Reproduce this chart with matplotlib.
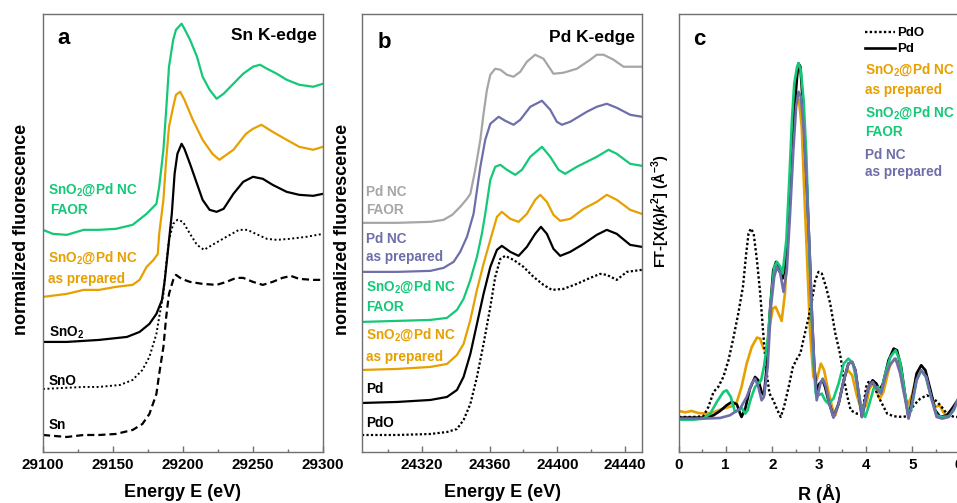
import matplotlib
matplotlib.use('Agg')
import matplotlib.pyplot as plt

plt.rcParams['font.family'] = ['Liberation Sans', 'DejaVu Sans']
plt.rcParams['font.weight'] = 'bold'
plt.rcParams['axes.labelweight'] = 'bold'
plt.rcParams['mathtext.fontset'] = 'custom'
plt.rcParams['mathtext.rm'] = 'Liberation Sans:bold'
plt.rcParams['mathtext.it'] = 'Liberation Sans:italic:bold'
plt.rcParams['mathtext.bf'] = 'Liberation Sans:bold'

# ---------------- colours ----------------
GREEN = '#14C878'
ORANGE = '#E6A000'
PURPLE = '#6E6EAA'
GRAY = '#A6A6A6'
BLACK = '#000000'

# ---------------- panel a : Sn K-edge (offset normalized fluorescence) ----------------
a_faor_E = [29100, 29107, 29117, 29129, 29140, 29152, 29164, 29174, 29181, 29183, 29186, 29188, 29190,
            29193, 29195, 29199, 29201, 29205, 29210, 29214, 29219, 29224, 29229, 29236, 29243, 29250,
            29255, 29260, 29267, 29274, 29283, 29293, 29300]
a_faor_mu = [2.22, 2.18, 2.17, 2.22, 2.22, 2.23, 2.27, 2.38, 2.48, 2.65, 3.02, 3.42, 3.85, 4.12, 4.22,
             4.28, 4.23, 4.12, 3.95, 3.75, 3.62, 3.53, 3.58, 3.68, 3.78, 3.85, 3.87, 3.83, 3.78, 3.72,
             3.67, 3.65, 3.68]

a_prep_E = [29100, 29117, 29129, 29140, 29152, 29164, 29169, 29174, 29179, 29182, 29183, 29186, 29188,
            29190, 29193, 29195, 29198, 29201, 29207, 29214, 29221, 29226, 29236, 29245, 29250, 29256,
            29264, 29274, 29283, 29293, 29300]
a_prep_mu = [1.55, 1.58, 1.62, 1.62, 1.65, 1.67, 1.72, 1.85, 1.92, 1.98, 2.18, 2.52, 2.92, 3.25, 3.45,
             3.57, 3.60, 3.52, 3.32, 3.12, 2.98, 2.92, 3.02, 3.18, 3.23, 3.27, 3.20, 3.12, 3.05, 3.02, 3.05]

a_sno2_E = [29100, 29117, 29140, 29160, 29169, 29176, 29181, 29185, 29187, 29189, 29192, 29194, 29196,
            29199, 29201, 29205, 29210, 29214, 29219, 29224, 29229, 29236, 29243, 29250, 29257, 29264,
            29274, 29283, 29293, 29300]
a_sno2_mu = [1.10, 1.10, 1.12, 1.15, 1.20, 1.28, 1.38, 1.52, 1.72, 1.98, 2.38, 2.78, 2.98, 3.08, 3.03,
             2.88, 2.68, 2.52, 2.42, 2.40, 2.43, 2.58, 2.70, 2.75, 2.73, 2.67, 2.60, 2.57, 2.56, 2.58]

a_sno_E = [29100, 29129, 29140, 29155, 29164, 29171, 29176, 29181, 29183, 29186, 29188, 29190, 29193,
           29196, 29200, 29205, 29210, 29215, 29221, 29231, 29240, 29246, 29252, 29260, 29267, 29276,
           29288, 29300]
a_sno_mu = [0.63, 0.65, 0.65, 0.67, 0.72, 0.82, 0.95, 1.18, 1.35, 1.58, 1.88, 2.12, 2.28, 2.32, 2.30,
            2.18, 2.07, 2.02, 2.07, 2.15, 2.22, 2.22, 2.18, 2.13, 2.12, 2.13, 2.15, 2.18]

a_sn_E = [29100, 29117, 29129, 29140, 29152, 29164, 29171, 29176, 29181, 29183, 29186, 29188, 29190,
          29193, 29195, 29199, 29205, 29214, 29224, 29231, 29238, 29243, 29250, 29257, 29264, 29271,
          29277, 29283, 29293, 29298]
a_sn_mu = [0.17, 0.15, 0.17, 0.17, 0.18, 0.22, 0.28, 0.38, 0.58, 0.78, 1.05, 1.35, 1.58, 1.72, 1.77,
           1.73, 1.70, 1.68, 1.67, 1.70, 1.74, 1.74, 1.70, 1.67, 1.70, 1.74, 1.76, 1.73, 1.72, 1.72]

# ---------------- panel b : Pd K-edge ----------------
b_pdfaor_E = [24284.6, 24305.3, 24325.0, 24332.8, 24337.9, 24342.6, 24346.6, 24348.6, 24351.5, 24354.5,
              24356.4, 24358.4, 24360.4, 24363.3, 24366.3, 24370.2, 24374.1, 24378.1, 24382.0, 24386.9,
              24391.8, 24397.7, 24403.6, 24411.5, 24419.4, 24423.3, 24427.3, 24433.2, 24439.1, 24449.9]
b_pdfaor_mu = [2.29, 2.29, 2.30, 2.32, 2.37, 2.45, 2.53, 2.58, 2.82, 3.12, 3.38, 3.62, 3.77, 3.83, 3.82,
               3.77, 3.75, 3.80, 3.90, 3.97, 3.93, 3.78, 3.79, 3.83, 3.92, 3.97, 3.97, 3.92, 3.85, 3.85]

b_pdprep_E = [24284.6, 24305.3, 24325.0, 24332.8, 24338.7, 24342.6, 24346.6, 24350.5, 24354.5, 24357.4,
              24360.4, 24365.3, 24369.2, 24374.1, 24378.1, 24384.0, 24390.9, 24395.8, 24399.7, 24402.7,
              24407.6, 24417.4, 24423.3, 24429.2, 24435.1, 24443.0, 24449.9]
b_pdprep_mu = [1.80, 1.80, 1.81, 1.84, 1.90, 2.00, 2.15, 2.38, 2.85, 3.12, 3.28, 3.35, 3.31, 3.27, 3.32,
               3.45, 3.51, 3.42, 3.30, 3.27, 3.30, 3.40, 3.45, 3.48, 3.44, 3.37, 3.35]

b_snfaor_E = [24284.6, 24305.3, 24325.0, 24334.8, 24340.7, 24344.6, 24348.6, 24352.5, 24355.4, 24357.4,
              24360.4, 24363.3, 24366.3, 24370.2, 24375.1, 24379.1, 24384.0, 24390.9, 24395.8, 24400.7,
              24404.6, 24411.5, 24417.4, 24423.3, 24430.2, 24435.1, 24443.0, 24449.9]
b_snfaor_mu = [1.30, 1.31, 1.32, 1.34, 1.42, 1.53, 1.72, 1.95, 2.18, 2.38, 2.72, 2.85, 2.87, 2.82, 2.77,
               2.82, 2.95, 3.05, 2.95, 2.82, 2.78, 2.85, 2.90, 2.95, 3.02, 2.98, 2.88, 2.86]

b_snprep_E = [24284.6, 24305.3, 24325.0, 24334.8, 24340.7, 24344.6, 24348.6, 24352.5, 24356.4, 24360.4,
              24364.3, 24367.2, 24372.2, 24377.1, 24382.0, 24386.9, 24389.9, 24393.8, 24397.7, 24401.7,
              24407.6, 24415.5, 24423.3, 24429.2, 24435.1, 24443.0, 24449.9]
b_snprep_mu = [0.82, 0.83, 0.85, 0.88, 0.97, 1.08, 1.32, 1.62, 1.88, 2.12, 2.35, 2.40, 2.33, 2.30, 2.38,
               2.52, 2.57, 2.50, 2.37, 2.31, 2.33, 2.43, 2.50, 2.57, 2.52, 2.42, 2.38]

b_pd_E = [24284.6, 24305.3, 24325.0, 24334.8, 24340.7, 24344.6, 24348.6, 24352.5, 24356.4, 24360.4,
          24364.3, 24367.2, 24372.2, 24377.1, 24382.0, 24386.9, 24390.3, 24393.8, 24397.7, 24401.7,
          24407.6, 24415.5, 24423.3, 24429.2, 24435.1, 24443.0, 24449.9]
b_pd_mu = [0.49, 0.50, 0.52, 0.55, 0.62, 0.75, 0.98, 1.28, 1.58, 1.85, 2.02, 2.06, 2.00, 1.96, 2.05,
           2.18, 2.25, 2.18, 2.03, 1.96, 2.00, 2.08, 2.17, 2.22, 2.18, 2.07, 2.05]

b_pdo_E = [24284.6, 24305.3, 24325.0, 24334.8, 24340.7, 24344.6, 24348.6, 24352.5, 24356.4, 24360.4,
           24363.3, 24366.3, 24369.2, 24374.1, 24380.0, 24385.9, 24391.8, 24396.8, 24403.6, 24411.5,
           24419.4, 24425.3, 24429.2, 24435.1, 24441.0, 24449.9]
b_pdo_mu = [0.17, 0.17, 0.18, 0.20, 0.23, 0.32, 0.48, 0.75, 1.08, 1.45, 1.75, 1.93, 1.96, 1.92, 1.85,
            1.75, 1.67, 1.62, 1.63, 1.68, 1.74, 1.78, 1.77, 1.72, 1.80, 1.82]

# ---------------- panel c : Fourier transform magnitude ----------------
c_pd_R = [0.00, 0.31, 0.52, 0.74, 0.88, 1.02, 1.13, 1.24, 1.31, 1.34, 1.42, 1.52, 1.63, 1.70, 1.77,
          1.82, 1.88, 1.95, 2.02, 2.08, 2.15, 2.22, 2.30, 2.37, 2.44, 2.49, 2.53, 2.56, 2.60, 2.63,
          2.68, 2.74, 2.80, 2.85, 2.90, 2.95, 3.01, 3.08, 3.13, 3.20, 3.31, 3.42, 3.53, 3.63, 3.71,
          3.78, 3.85, 3.92, 3.99, 4.06, 4.15, 4.23, 4.30, 4.37, 4.49, 4.60, 4.67, 4.76, 4.85, 4.92,
          4.99, 5.09, 5.19, 5.28, 5.39, 5.49, 5.60, 5.74, 5.85, 5.97]
c_pd_ft = [0.03, 0.03, 0.03, 0.10, 0.23, 0.40, 0.50, 0.43, 0.15, 0.05, 0.30, 0.90, 1.25, 1.15, 0.80,
           0.70, 1.55, 3.25, 4.45, 4.70, 4.55, 4.20, 4.75, 6.55, 8.35, 9.55, 10.25, 10.65, 10.55, 9.95,
           8.75, 6.95, 4.95, 3.05, 1.55, 0.85, 1.05, 1.15, 0.95, 0.55, 0.05, 0.45, 1.15, 1.65, 1.70,
           1.45, 0.75, 0.05, 0.55, 0.95, 1.15, 1.05, 0.85, 1.05, 1.75, 2.10, 2.05, 1.55, 0.65, 0.03,
           0.55, 1.35, 1.60, 1.45, 0.85, 0.25, 0.05, 0.10, 0.30, 0.55]

c_pdnc_R = [0.00, 0.52, 0.88, 1.09, 1.31, 1.45, 1.56, 1.63, 1.70, 1.77, 1.82, 1.90, 1.97, 2.04, 2.10,
            2.17, 2.24, 2.31, 2.38, 2.45, 2.51, 2.56, 2.61, 2.67, 2.74, 2.80, 2.85, 2.90, 2.95, 3.03,
            3.08, 3.15, 3.22, 3.31, 3.42, 3.53, 3.63, 3.71, 3.78, 3.85, 3.92, 3.99, 4.06, 4.15, 4.24,
            4.33, 4.42, 4.53, 4.64, 4.74, 4.85, 4.92, 4.99, 5.09, 5.19, 5.30, 5.40, 5.52, 5.64, 5.78,
            5.89, 5.97]
c_pdnc_ft = [0.00, 0.00, 0.02, 0.10, 0.30, 0.65, 1.05, 1.20, 0.95, 0.55, 0.65, 1.55, 3.35, 4.25, 4.55,
             4.35, 3.80, 4.45, 6.15, 8.05, 9.35, 9.80, 9.65, 8.75, 6.95, 4.95, 3.05, 1.55, 0.55, 1.05,
             1.20, 0.95, 0.45, 0.03, 0.45, 1.15, 1.65, 1.70, 1.45, 0.75, 0.05, 0.55, 0.95, 1.10, 0.90,
             0.75, 1.25, 1.65, 1.80, 1.35, 0.55, 0.00, 0.45, 1.15, 1.45, 1.25, 0.65, 0.05, 0.00, 0.05,
             0.30, 0.55]

c_snfaor_R = [0.00, 0.31, 0.52, 0.67, 0.81, 0.95, 1.02, 1.11, 1.20, 1.27, 1.34, 1.42, 1.47, 1.54, 1.63,
              1.70, 1.76, 1.82, 1.90, 1.97, 2.04, 2.10, 2.17, 2.22, 2.30, 2.37, 2.42, 2.47, 2.53, 2.56,
              2.61, 2.67, 2.73, 2.78, 2.83, 2.88, 2.93, 2.99, 3.06, 3.13, 3.20, 3.31, 3.42, 3.53, 3.63,
              3.73, 3.81, 3.91, 3.99, 4.06, 4.17, 4.26, 4.33, 4.42, 4.53, 4.64, 4.73, 4.81, 4.92, 4.99,
              5.09, 5.19, 5.29, 5.40, 5.52, 5.64, 5.78, 5.89, 5.97]
c_snfaor_ft = [-0.03, -0.03, 0.00, 0.15, 0.50, 0.80, 0.85, 0.65, 0.20, 0.25, 0.33, 0.15, 0.25, 0.60, 0.95,
               1.05, 1.15, 1.55, 2.35, 3.55, 4.55, 4.70, 4.55, 4.35, 5.35, 7.35, 8.95, 10.05, 10.55, 10.65,
               10.45, 9.55, 7.85, 5.55, 3.55, 1.75, 0.75, 0.70, 0.75, 0.55, 0.45, 0.60, 1.05, 1.65, 1.80,
               1.65, 1.05, 0.35, 0.05, 0.35, 0.90, 0.95, 0.80, 1.35, 1.85, 2.05, 1.75, 1.05, 0.05, 0.35,
               1.15, 1.45, 1.25, 0.65, 0.10, 0.05, 0.07, 0.25, 0.55]

c_snprep_R = [0.00, 0.13, 0.27, 0.41, 0.59, 0.74, 0.88, 1.02, 1.13, 1.24, 1.34, 1.45, 1.56, 1.67, 1.74,
              1.81, 1.87, 1.94, 2.01, 2.07, 2.15, 2.20, 2.27, 2.35, 2.42, 2.47, 2.53, 2.57, 2.63, 2.68,
              2.74, 2.81, 2.88, 2.95, 3.04, 3.11, 3.18, 3.28, 3.35, 3.44, 3.53, 3.61, 3.71, 3.81, 3.92,
              4.01, 4.08, 4.16, 4.23, 4.30, 4.38, 4.51, 4.62, 4.71, 4.81, 4.90, 4.99, 5.09, 5.17, 5.28,
              5.39, 5.49, 5.59, 5.66, 5.73, 5.82, 5.89, 5.97]
c_snprep_ft = [0.23, 0.19, 0.23, 0.17, 0.15, 0.19, 0.27, 0.33, 0.37, 0.50, 0.95, 1.65, 2.15, 2.43, 2.40,
               2.10, 2.05, 2.75, 3.30, 3.35, 3.10, 2.93, 3.75, 5.75, 7.75, 9.15, 9.65, 9.55, 8.75, 6.95,
               4.95, 2.55, 1.25, 1.15, 1.65, 1.45, 0.95, 0.35, 0.10, 0.55, 1.15, 1.47, 1.30, 0.70, 0.20,
               0.40, 0.90, 1.05, 0.85, 0.60, 0.80, 1.55, 1.80, 1.65, 0.85, 0.40, 0.70, 1.25, 1.47, 1.30,
               0.75, 0.35, 0.40, 0.20, 0.10, 0.20, 0.35, 0.50]

c_pdo_R = [0.00, 0.31, 0.52, 0.63, 0.74, 0.84, 0.95, 1.06, 1.17, 1.27, 1.37, 1.44, 1.49, 1.54, 1.60,
           1.67, 1.74, 1.80, 1.87, 1.94, 2.02, 2.11, 2.18, 2.25, 2.35, 2.44, 2.53, 2.60, 2.68, 2.78,
           2.85, 2.92, 2.99, 3.06, 3.15, 3.24, 3.35, 3.45, 3.54, 3.61, 3.68, 3.81, 3.93, 4.01, 4.06,
           4.16, 4.26, 4.35, 4.46, 4.60, 4.81, 4.92, 5.03, 5.17, 5.31, 5.46, 5.60, 5.74, 5.89, 5.97]
c_pdo_ft = [0.05, 0.05, 0.07, 0.35, 0.80, 0.95, 1.25, 1.75, 2.45, 3.15, 3.95, 4.95, 5.55, 5.70, 5.55,
            4.75, 3.75, 2.65, 1.45, 0.75, 0.55, 0.25, 0.05, 0.35, 0.95, 1.55, 1.80, 1.95, 2.45, 3.05,
            3.55, 4.15, 4.40, 4.35, 3.95, 3.45, 2.55, 1.95, 1.15, 0.65, 0.25, 0.15, 0.15, 0.95, 1.10,
            1.05, 0.70, 0.45, 0.15, 0.07, 0.05, 0.10, 0.40, 0.60, 0.70, 0.60, 0.40, 0.15, 0.05, 0.05]

# ---------------- figure ----------------
W, H = 957, 503
fig = plt.figure(figsize=(W / 100, H / 100), dpi=100)


def px_axes(left, top, width, height):
    return fig.add_axes([left / W, (H - top - height) / H, width / W, height / H])


axa = px_axes(43, 14, 280, 438)
axb = px_axes(362, 14, 280, 438)
axc = px_axes(679, 14, 280, 438)

SPINE = '#707070'
for ax in (axa, axb, axc):
    for s in ax.spines.values():
        s.set_color(SPINE)
        s.set_linewidth(1.0)
    ax.tick_params(axis='x', which='major', direction='in', length=4.5, width=1.0, color=SPINE,
                   labelsize=11, pad=4)
    ax.tick_params(axis='x', which='minor', direction='in', length=2.5, width=1.0, color=SPINE)
    ax.tick_params(axis='y', left=False, labelleft=False, which='both')

# ---- panel a ----
LW = 1.6
axa.plot(a_faor_E, a_faor_mu, color=GREEN, lw=LW)
axa.plot(a_prep_E, a_prep_mu, color=ORANGE, lw=LW)
axa.plot(a_sno2_E, a_sno2_mu, color=BLACK, lw=LW)
axa.plot(a_sno_E, a_sno_mu, color=BLACK, lw=1.4, ls=(0, (1, 1.3)))
axa.plot(a_sn_E, a_sn_mu, color=BLACK, lw=1.6, ls=(0, (3.2, 1.8)))
axa.set_xlim(29100, 29300)
axa.set_ylim(0, 4.377)
axa.set_xticks([29100, 29150, 29200, 29250, 29300])
axa.set_xticks([29125, 29175, 29225, 29275], minor=True)

# ---- panel b ----
axb.plot(b_pdfaor_E, b_pdfaor_mu, color=GRAY, lw=LW)
axb.plot(b_pdprep_E, b_pdprep_mu, color=PURPLE, lw=LW)
axb.plot(b_snfaor_E, b_snfaor_mu, color=GREEN, lw=LW)
axb.plot(b_snprep_E, b_snprep_mu, color=ORANGE, lw=LW)
axb.plot(b_pd_E, b_pd_mu, color=BLACK, lw=LW)
axb.plot(b_pdo_E, b_pdo_mu, color=BLACK, lw=1.6, ls=(0, (1, 1)))
axb.set_xlim(24284.6, 24450)
axb.set_ylim(0, 4.377)
axb.set_xticks([24320, 24360, 24400, 24440])
axb.set_xticks([24300, 24340, 24380, 24420], minor=True)

# ---- panel c ----
LWC = 1.9
axc.plot(c_snprep_R, c_snprep_ft, color=ORANGE, lw=LWC)
l_pdo, = axc.plot(c_pdo_R, c_pdo_ft, color=BLACK, lw=1.7, ls=(0, (1, 1)))
l_pd, = axc.plot(c_pd_R, c_pd_ft, color=BLACK, lw=LWC)
axc.plot(c_snfaor_R, c_snfaor_ft, color=GREEN, lw=LWC)
axc.plot(c_pdnc_R, c_pdnc_ft, color=PURPLE, lw=LWC)
axc.set_xlim(0, 6)
axc.set_ylim(-1.0, 12.13)
axc.set_xticks([0, 1, 2, 3, 4, 5, 6])
axc.set_xticks([0.5, 1.5, 2.5, 3.5, 4.5, 5.5], minor=True)

# ---- axis labels ----
for ax in (axa, axb):
    ax.set_xlabel('Energy E (eV)', fontsize=13, fontweight='bold')
    ax.xaxis.set_label_coords(0.5, -0.072)
axc.set_xlabel('R (Å)', fontsize=13, fontweight='bold')
axc.xaxis.set_label_coords(0.5, -0.072)

axa.set_ylabel('normalized fluorescence', fontsize=13, fontweight='bold')
axa.yaxis.label.set_verticalalignment('center')
axa.yaxis.set_label_coords(-0.078, 0.507)
axb.set_ylabel('normalized fluorescence', fontsize=13, fontweight='bold')
axb.yaxis.label.set_verticalalignment('center')
axb.yaxis.set_label_coords(-0.071, 0.507)
axc.set_ylabel(r'FT-[X($\mathit{k}$)$\mathit{k}^{2}$] (Å$^{-3}$)', fontsize=10.5, fontweight='bold')
axc.yaxis.label.set_verticalalignment('center')
axc.yaxis.set_label_coords(-0.068, 0.55)

# ---- panel letters / titles ----
axa.text(0.05, 0.945, 'a', transform=axa.transAxes, fontsize=16, fontweight='bold', va='center', ha='left')
axb.text(0.054, 0.934, 'b', transform=axb.transAxes, fontsize=16, fontweight='bold', va='center', ha='left')
axc.text(0.05, 0.941, 'c', transform=axc.transAxes, fontsize=16, fontweight='bold', va='center', ha='left')
axa.text(0.979, 0.952, 'Sn K-edge', transform=axa.transAxes, fontsize=12.5, fontweight='bold',
         va='center', ha='right')
axb.text(0.975, 0.947, 'Pd K-edge', transform=axb.transAxes, fontsize=12.5, fontweight='bold',
         va='center', ha='right')

FS = 9.8


def lab(ax, x, y, s, c):
    ax.text(x, y, s, transform=ax.transAxes, fontsize=FS, fontweight='bold', color=c,
            va='center', ha='left')


SNPD = r'SnO$_2$@Pd NC'
# panel a curve labels
lab(axa, 0.018, 0.600, SNPD, GREEN)
lab(axa, 0.025, 0.553, 'FAOR', GREEN)
lab(axa, 0.018, 0.443, SNPD, ORANGE)
lab(axa, 0.018, 0.395, 'as prepared', ORANGE)
lab(axa, 0.021, 0.272, r'SnO$_2$', BLACK)
lab(axa, 0.021, 0.162, 'SnO', BLACK)
lab(axa, 0.021, 0.062, 'Sn', BLACK)

# panel b curve labels
lab(axb, 0.014, 0.594, 'Pd NC', GRAY)
lab(axb, 0.014, 0.553, 'FAOR', GRAY)
lab(axb, 0.014, 0.486, 'Pd NC', PURPLE)
lab(axb, 0.014, 0.445, 'as prepared', PURPLE)
lab(axb, 0.014, 0.377, SNPD, GREEN)
lab(axb, 0.014, 0.331, 'FAOR', GREEN)
lab(axb, 0.014, 0.267, SNPD, ORANGE)
lab(axb, 0.014, 0.217, 'as prepared', ORANGE)
lab(axb, 0.014, 0.144, 'Pd', BLACK)
lab(axb, 0.014, 0.066, 'PdO', BLACK)

# panel c legend
axc.legend([l_pdo, l_pd], ['PdO', 'Pd'], loc='upper left', bbox_to_anchor=(0.664, 0.970),
           frameon=False, prop={'size': 9.5, 'weight': 'bold'}, handlelength=2.3,
           handletextpad=0.15, labelspacing=0.28, borderpad=0, borderaxespad=0)
lab(axc, 0.664, 0.872, SNPD, ORANGE)
lab(axc, 0.664, 0.826, 'as prepared', ORANGE)
lab(axc, 0.664, 0.776, SNPD, GREEN)
lab(axc, 0.664, 0.731, 'FAOR', GREEN)
lab(axc, 0.664, 0.678, 'Pd NC', PURPLE)
lab(axc, 0.664, 0.639, 'as prepared', PURPLE)

fig.savefig('out.png', dpi=100)
